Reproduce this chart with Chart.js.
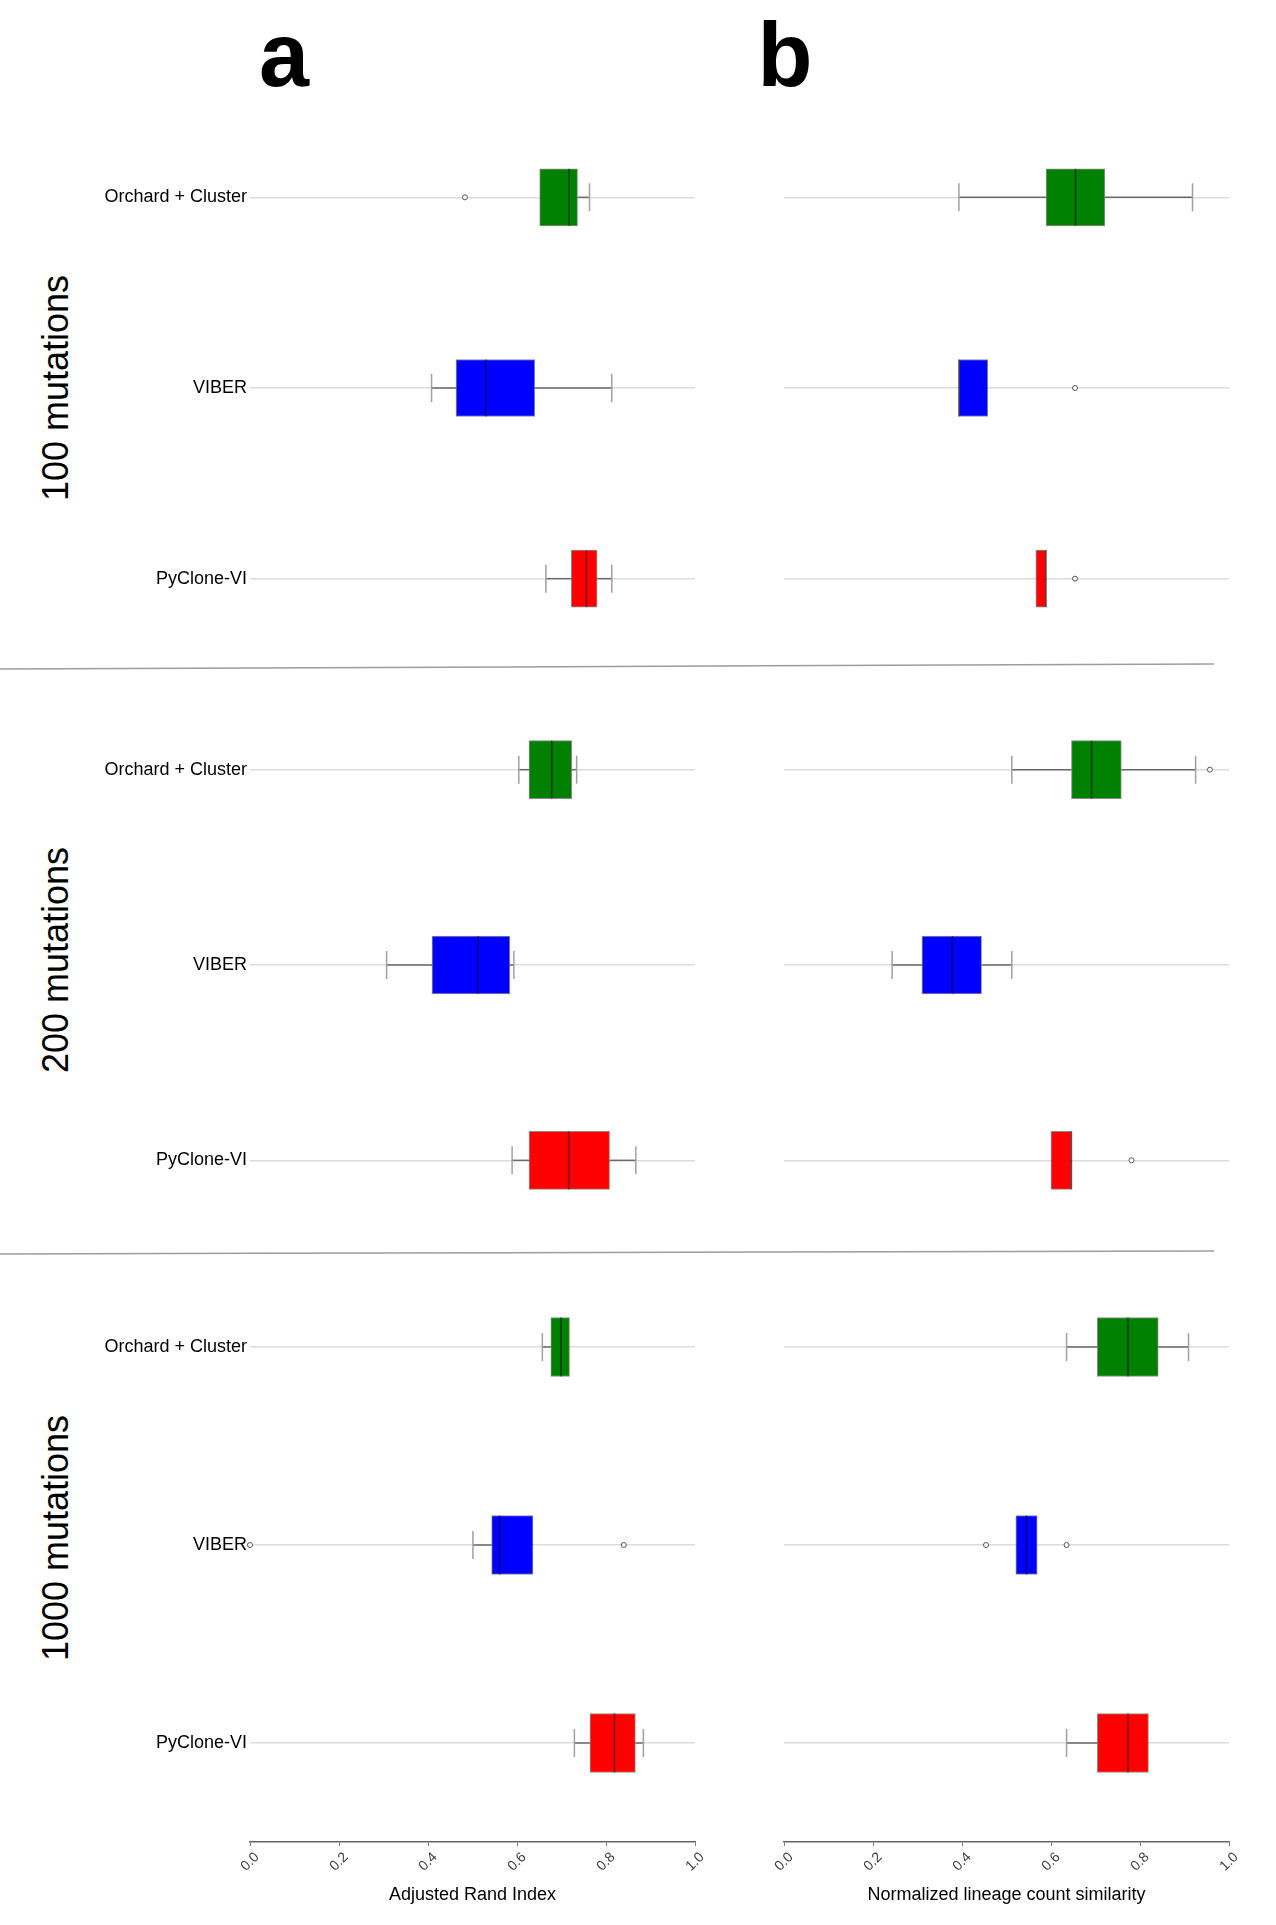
<!DOCTYPE html>
<html>
<head>
<meta charset="utf-8">
<title>Orchard + Cluster vs VIBER vs PyClone-VI</title>
<script src="https://cdn.jsdelivr.net/npm/chart.js@4.4.1/dist/chart.umd.min.js"></script>
<style>
  html, body { margin: 0; padding: 0; background: #fff; }
  body { position: relative; width: 1276px; height: 1925px; overflow: hidden;
         font-family: 'Liberation Sans', Arial, sans-serif; color: #000; }
  canvas { position: absolute; }
  .letter { position: absolute; top: 10px; font-size: 90px; line-height: 90px;
            font-weight: bold; transform: translateX(-50%); }
  .group { position: absolute; left: 56px; font-size: 36px; white-space: nowrap;
           transform: translate(-50%, -50%) rotate(-90deg); }
  svg.sep { position: absolute; left: 0; top: 0; }
</style>
</head>
<body>
<div class="letter" style="left:284px">a</div>
<div class="letter" style="left:785px">b</div>
<svg class="sep" width="1276" height="1925">
  <line x1="0" y1="669" x2="1214" y2="664" stroke="#9c9c9c" stroke-width="1.5"/>
  <line x1="0" y1="1254" x2="1214" y2="1251" stroke="#9c9c9c" stroke-width="1.5"/>
</svg>
<script>
const methods = ['Orchard + Cluster', 'VIBER', 'PyClone-VI'];
const groups = ['100 mutations', '200 mutations', '1000 mutations'];
const xTicks = [0, 0.2, 0.4, 0.6, 0.8, 1.0];
const xTitles = ['Adjusted Rand Index', 'Normalized lineage count similarity'];

// panel a: adjusted rand index, one row per group, one value per method
const ariQ1     = [[0.651, 0.463, 0.722], [0.627, 0.409, 0.627], [0.676, 0.543, 0.764]];
const ariMedian = [[0.717, 0.530, 0.756], [0.678, 0.513, 0.716], [0.699, 0.561, 0.819]];
const ariQ3     = [[0.736, 0.640, 0.780], [0.723, 0.584, 0.808], [0.718, 0.636, 0.866]];
const ariLow    = [[null, 0.408, 0.665], [0.604, 0.307, 0.589], [0.657, 0.501, 0.729]];
const ariHigh   = [[0.763, 0.813, 0.813], [0.734, 0.593, 0.867], [null, null, 0.884]];
const ariOutliers = [[[0.483], [], []], [[], [], []], [[], [0.0, 0.840], []]];

// panel b: normalized lineage count similarity
const nlcsQ1     = [[0.589, 0.393, 0.566], [0.646, 0.310, 0.600], [0.704, 0.521, 0.704]];
const nlcsMedian = [[0.655, 0.393, 0.589], [0.691, 0.378, 0.646], [0.773, 0.545, 0.773]];
const nlcsQ3     = [[0.721, 0.458, 0.589], [0.758, 0.444, 0.646], [0.841, 0.569, 0.819]];
const nlcsLow    = [[0.393, null, null], [0.512, 0.243, null], [0.635, null, 0.635]];
const nlcsHigh   = [[0.918, null, null], [0.925, 0.512, null], [0.909, null, null]];
const nlcsOutliers = [[[], [0.654], [0.654]], [[0.957], [], [0.781]], [[], [0.454, 0.635], []]];

const methodColors = ['#008000', '#0000ff', '#ff0000'];

const panels = [
  { q1: ariQ1, median: ariMedian, q3: ariQ3, low: ariLow, high: ariHigh, out: ariOutliers,
    canvasLeft: 0, yWidth: 250, labels: true },
  { q1: nlcsQ1, median: nlcsMedian, q3: nlcsQ3, low: nlcsLow, high: nlcsHigh, out: nlcsOutliers,
    canvasLeft: 744, yWidth: 40, labels: false }
];
// plot area of each group of rows: top, height, box thickness
const bands = [ { top: 102, h: 572, bar: 57 }, { top: 672, h: 586, bar: 58 }, { top: 1248, h: 594, bar: 59 } ];
const groupLabelY = [388, 960, 1538];
const plotWidth = 445, padTop = 20, padRight = 20, xAxisHeight = 68;

Chart.defaults.font.family = "'Liberation Sans', Arial, sans-serif";

// whiskers, caps and medians, placed with the chart's own scales
function boxDetails(p, g) {
  return {
    id: 'boxDetails',
    afterDatasetsDraw(chart) {
      const ctx = chart.ctx, xs = chart.scales.x, ys = chart.scales.y;
      const bars = chart.getDatasetMeta(0).data;
      ctx.save();
      ctx.lineWidth = 1.5;
      methods.forEach((m, i) => {
        const yc = ys.getPixelForValue(i);
        const half = bars[i].height / 2;
        const ends = [[p.low[g][i], p.q1[g][i]], [p.high[g][i], p.q3[g][i]]];
        ends.forEach(([w, edge]) => {
          if (w == null) return;
          const wx = xs.getPixelForValue(w);
          ctx.strokeStyle = '#6a6a6a';
          ctx.beginPath(); ctx.moveTo(wx, yc); ctx.lineTo(xs.getPixelForValue(edge), yc); ctx.stroke();
          ctx.strokeStyle = '#a0a0a0';
          ctx.beginPath(); ctx.moveTo(wx, yc - 14); ctx.lineTo(wx, yc + 14); ctx.stroke();
        });
        const mx = xs.getPixelForValue(p.median[g][i]);
        ctx.strokeStyle = 'rgba(0,0,0,0.55)';
        ctx.beginPath(); ctx.moveTo(mx, yc - half); ctx.lineTo(mx, yc + half); ctx.stroke();
      });
      ctx.restore();
    }
  };
}

function makeChart(pi, g) {
  const p = panels[pi];
  const band = bands[g];
  const isBottom = g === groups.length - 1;
  const canvas = document.createElement('canvas');
  canvas.width = p.yWidth + plotWidth + padRight;
  canvas.height = padTop + band.h + (isBottom ? xAxisHeight : padTop);
  canvas.style.left = p.canvasLeft + 'px';
  canvas.style.top = (band.top - padTop) + 'px';
  document.body.appendChild(canvas);

  const outliers = [];
  methods.forEach((m, i) => p.out[g][i].forEach(v => outliers.push({ x: v, y: m })));

  const xScale = {
    type: 'linear', min: 0, max: 1,
    display: isBottom,
    afterBuildTicks: s => { s.ticks = xTicks.map(v => ({ value: v })); },
    border: { display: true, color: '#666', width: 1.5 },
    grid: { drawOnChartArea: false, drawTicks: true, tickLength: 4, color: '#777' },
    ticks: { minRotation: 45, maxRotation: 45, padding: 3, labelOffset: 7,
             color: '#3a3a3a', font: { size: 14 }, callback: v => v.toFixed(1) },
    title: { display: true, text: xTitles[pi], color: '#000', font: { size: 18 },
             padding: { top: 4, bottom: 4 } }
  };
  if (isBottom) xScale.afterFit = s => { s.height = xAxisHeight; };

  new Chart(canvas, {
    type: 'bar',
    data: {
      labels: methods,
      datasets: [{
        data: methods.map((m, i) => [p.q1[g][i], p.q3[g][i]]),
        backgroundColor: methodColors,
        borderColor: 'rgba(0,0,0,0.45)',
        borderWidth: 1,
        borderSkipped: false,
        barThickness: band.bar
      }, {
        type: 'scatter',
        data: outliers,
        pointRadius: 2.5,
        pointBorderWidth: 1,
        pointBorderColor: '#555',
        pointBackgroundColor: '#fff',
        clip: false
      }]
    },
    options: {
      indexAxis: 'y',
      responsive: false,
      animation: false,
      layout: { padding: { left: 0, right: padRight, top: padTop, bottom: isBottom ? 0 : padTop } },
      plugins: { legend: { display: false }, tooltip: { enabled: false } },
      scales: {
        x: xScale,
        y: {
          type: 'category',
          afterFit: s => { s.width = p.yWidth; },
          border: { display: false },
          grid: { offset: false, drawTicks: false, color: '#dcdcdc', lineWidth: 1.5 },
          ticks: { display: p.labels, padding: 3, color: '#000', font: { size: 18 } }
        }
      }
    },
    plugins: [boxDetails(p, g)]
  });
}

groups.forEach((name, g) => {
  const div = document.createElement('div');
  div.className = 'group';
  div.style.top = groupLabelY[g] + 'px';
  div.textContent = name;
  document.body.appendChild(div);
  panels.forEach((p, pi) => makeChart(pi, g));
});
</script>
</body>
</html>
